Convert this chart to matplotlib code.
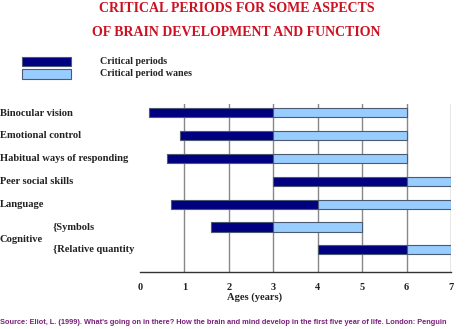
import matplotlib
matplotlib.use("Agg")
import matplotlib.pyplot as plt
from matplotlib.patches import Rectangle
from matplotlib import font_manager

categories = ["Binocular vision", "Emotional control", "Habitual ways of responding",
              "Peer social skills", "Language", "{Symbols", "{Relative quantity"]
crit_start = [0.2, 0.9, 0.6, 3.0, 0.7, 1.6, 4.0]
crit_end = [3.0, 3.0, 3.0, 6.0, 4.0, 3.0, 6.0]
wane_end = [6.0, 6.0, 6.0, 7.0, 7.0, 5.0, 7.0]
xticks = [0, 1, 2, 3, 4, 5, 6, 7]

title1 = "CRITICAL PERIODS FOR SOME ASPECTS"
title2 = "OF BRAIN DEVELOPMENT AND FUNCTION"
legend_labels = ["Critical periods", "Critical period wanes"]
xlabel = "Ages (years)"
source = ("Source: Eliot, L. (1999). What's going on in there? How the brain and mind "
          "develop in the first five year of life. London: Penguin")

DARK = "#000080"
LIGHT = "#99ccff"
EDGE = "#4a5a70"
GRID = "#888888"
RED = "#cc1122"
PURPLE = "#7a1f7a"

avail = {f.name for f in font_manager.fontManager.ttflist}
serif = "Liberation Serif" if "Liberation Serif" in avail else "DejaVu Serif"
narrow = "Liberation Sans Narrow" if "Liberation Sans Narrow" in avail else "Liberation Sans"

W, H = 474, 329
fig = plt.figure(figsize=(W / 100, H / 100), dpi=100)
renderer = fig.canvas.get_renderer()

def px(x, y):
    return x / W, 1 - y / H

def fit_text(x, y, s, width_px, ha="left", **kw):
    t = fig.text(*px(x, y), s, ha=ha, va="center", **kw)
    fs = t.get_fontsize()
    w = t.get_window_extent(renderer).width
    t.set_fontsize(fs * width_px / w)
    return t

# Axes
l, r = 140, 451
top, bot = 104, 271.5
ax = fig.add_axes([l / W, 1 - bot / H, (r - l) / W, (bot - top) / H])
n = len(categories)
ys = list(range(n))
h = 0.40
ax.barh(ys, [e - s for s, e in zip(crit_start, crit_end)], left=crit_start, height=h,
        color=DARK, edgecolor=EDGE, linewidth=0.8, zorder=3)
ax.barh(ys, [w - e for e, w in zip(crit_end, wane_end)], left=crit_end, height=h,
        color=LIGHT, edgecolor=EDGE, linewidth=0.8, zorder=3)
ax.set_xlim(0, 7)
ax.set_ylim(6.95, -0.39)
for xv in xticks[1:]:
    ax.axvline(xv, color=GRID, linewidth=1.0, zorder=1)
for s in ["left", "top", "right"]:
    ax.spines[s].set_visible(False)
ax.spines["bottom"].set_color("#333333")
ax.spines["bottom"].set_linewidth(1.0)
ax.set_yticks([])
ax.set_xticks(xticks)
ax.set_xticklabels([str(v) for v in xticks], fontfamily=serif, fontweight="bold",
                   fontsize=7.5, color="#222222")
ax.tick_params(axis="x", length=0, pad=8)
ax.set_xticks([4], minor=True)
ax.tick_params(axis="x", which="minor", length=4, color=GRID, width=1)

# Titles
fit_text(237, 9, title1, 276, ha="center", fontfamily=serif, fontweight="bold", color=RED)
fit_text(236.5, 32, title2, 288, ha="center", fontfamily=serif, fontweight="bold", color=RED)

# Legend
for (y0, y1), c in zip([(57, 66), (69, 79)], [DARK, LIGHT]):
    fig.patches.append(Rectangle(px(22, y1), 49 / W, (y1 - y0) / H, transform=fig.transFigure,
                                 facecolor=c, edgecolor=EDGE, linewidth=0.8))
fit_text(100, 62, legend_labels[0], 67, fontfamily=serif, fontweight="bold", color="#222222")
fit_text(100, 74, legend_labels[1], 92, fontfamily=serif, fontweight="bold", color="#222222")

# Y labels
row_y = [113 + 22.8 * i for i in range(n)]
label_x = [0, 0, 0, 0, 0, 53, 53]
widths = {"Habitual ways of responding": 123}
for i, (cat, yy, xx) in enumerate(zip(categories, row_y, label_x)):
    fig.text(*px(xx, yy), cat, ha="left", va="center", fontfamily=serif,
             fontweight="bold", fontsize=7.6, color="#222222")
fig.text(*px(0, 239), "Cognitive", ha="left", va="center", fontfamily=serif,
         fontweight="bold", fontsize=7.6, color="#222222")

# X label
fig.text(*px(255, 297), xlabel, ha="center", va="center", fontfamily=serif,
         fontweight="bold", fontsize=7.6, color="#222222")

# Source
fit_text(0, 323, source, 448, fontfamily=narrow, fontweight="bold", color=PURPLE)

fig.savefig("out.png", dpi=100)
